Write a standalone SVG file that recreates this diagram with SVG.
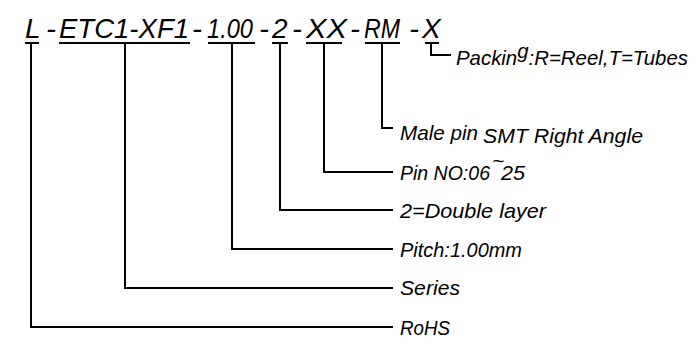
<svg xmlns="http://www.w3.org/2000/svg" width="698" height="341" viewBox="0 0 698 341">
<style>
.t{font-family:"Liberation Sans",Arial,sans-serif;font-style:italic;font-size:28px;fill:#000}
.l{font-family:"Liberation Sans",Arial,sans-serif;font-style:italic;font-size:21px;fill:#000}
.u{stroke:#000;stroke-width:2;fill:none}
.c{stroke:#000;stroke-width:2;fill:none}
</style>
<rect width="698" height="341" fill="#fff"/>
<g id="code">
  <g id="seg-L"><text class="t" x="25" y="38">L</text><line class="u" x1="25" y1="43" x2="39" y2="43"/></g>
  <text class="t" x="46" y="38" textLength="10" lengthAdjust="spacingAndGlyphs">-</text>
  <g id="seg-series"><text class="t" x="59" y="38" textLength="130" lengthAdjust="spacingAndGlyphs">ETC1-XF1</text><line class="u" x1="59" y1="43" x2="190" y2="43"/></g>
  <text class="t" x="192" y="38" textLength="10" lengthAdjust="spacingAndGlyphs">-</text>
  <g id="seg-pitch"><text class="t" x="207" y="38" textLength="46" lengthAdjust="spacingAndGlyphs">1.00</text><line class="u" x1="208" y1="43" x2="255" y2="43"/></g>
  <text class="t" x="259" y="38" textLength="10" lengthAdjust="spacingAndGlyphs">-</text>
  <g id="seg-layer"><text class="t" x="272" y="38">2</text><line class="u" x1="272" y1="43" x2="288" y2="43"/></g>
  <text class="t" x="292" y="38" textLength="10" lengthAdjust="spacingAndGlyphs">-</text>
  <g id="seg-pins"><text class="t" x="306" y="38" textLength="41" lengthAdjust="spacingAndGlyphs">XX</text><line class="u" x1="306" y1="43" x2="342" y2="43"/></g>
  <text class="t" x="350" y="38" textLength="10" lengthAdjust="spacingAndGlyphs">-</text>
  <g id="seg-type"><text class="t" x="364" y="38" textLength="36" lengthAdjust="spacingAndGlyphs">RM</text><line class="u" x1="365" y1="43" x2="400" y2="43"/></g>
  <text class="t" x="409" y="38" textLength="10" lengthAdjust="spacingAndGlyphs">-</text>
  <g id="seg-pack"><text class="t" x="422" y="38">X</text><line class="u" x1="425" y1="43" x2="439" y2="43"/></g>
</g>
<g id="connectors">
  <path class="c" d="M31,43 V327 H393"/>
  <path class="c" d="M125,43 V288 H393"/>
  <path class="c" d="M232,43 V249 H393"/>
  <path class="c" d="M280,43 V210 H393"/>
  <path class="c" d="M324,43 V172 H393"/>
  <path class="c" d="M382,43 V128 H393"/>
  <path class="c" d="M431,43 V55 H451"/>
</g>
<g id="label-packing"><text class="l" x="456" y="65" font-size="20" textLength="232" lengthAdjust="spacingAndGlyphs">Packin<tspan dy="-7">g</tspan><tspan dy="7">:R=Reel,T=Tubes</tspan></text></g>
<g id="label-type"><text class="l" x="400" y="140" textLength="78" lengthAdjust="spacingAndGlyphs">Male pin</text><text class="l" x="483" y="143" textLength="160" lengthAdjust="spacingAndGlyphs">SMT Right Angle</text></g>
<g id="label-pins"><text class="l" x="400" y="180" textLength="90" lengthAdjust="spacingAndGlyphs">Pin NO:06</text><text class="l" x="492" y="168" font-size="13">~</text><text class="l" x="501" y="180" textLength="24" lengthAdjust="spacingAndGlyphs">25</text></g>
<g id="label-layer"><text class="l" x="400" y="218" textLength="146" lengthAdjust="spacingAndGlyphs">2=Double layer</text></g>
<g id="label-pitch"><text class="l" x="400" y="257" textLength="122" lengthAdjust="spacingAndGlyphs">Pitch:1.00mm</text></g>
<g id="label-series"><text class="l" x="400" y="295" textLength="60" lengthAdjust="spacingAndGlyphs">Series</text></g>
<g id="label-rohs"><text class="l" x="400" y="335" textLength="50" lengthAdjust="spacingAndGlyphs">RoHS</text></g>
</svg>
